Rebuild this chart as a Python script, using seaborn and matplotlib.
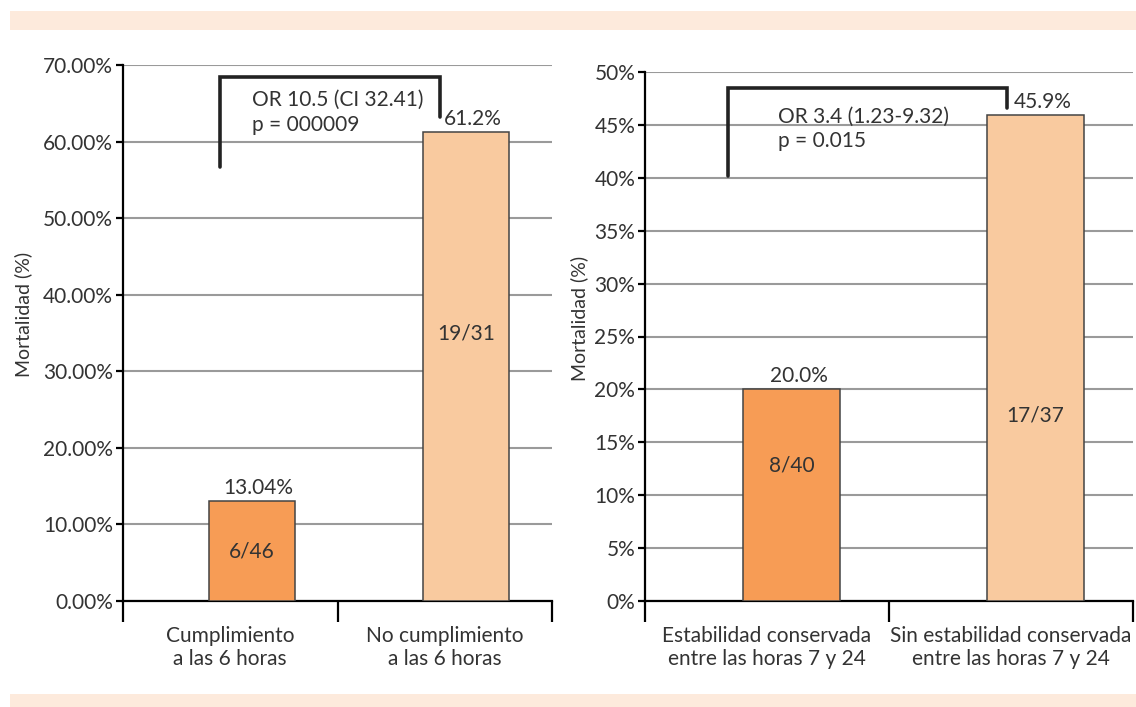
import numpy as np
import pandas as pd
import matplotlib
matplotlib.use("Agg")
import matplotlib.pyplot as plt
from matplotlib.patches import Rectangle
from matplotlib.ticker import FixedLocator
import seaborn as sb

# datos
cats_left = ["Cumplimiento\na las 6 horas", "No cumplimiento\na las 6 horas"]
vals_left = [13.04, 61.2]
top_labels_left = ["13.04%", "61.2%"]
inner_labels_left = ["6/46", "19/31"]

cats_right = ["Estabilidad conservada\nentre las horas 7 y 24", "Sin estabilidad conservada\nentre las horas 7 y 24"]
vals_right = [20.0, 45.9]
top_labels_right = ["20.0%", "45.9%"]
inner_labels_right = ["8/40", "17/37"]

stats_left = ["OR 10.5 (CI 32.41)", "p = 000009"]
stats_right = ["OR 3.4 (1.23-9.32)", "p = 0.015"]

colores = ["#F79C55", "#F9CA9F"]
banda = "#FDEADC"
texto = "#333333"

sb.set_style("white")
plt.rcParams['font.family'] = ['Lato', 'DejaVu Sans']
plt.rcParams['font.size'] = 15

fig = plt.figure(figsize=(11.36, 7.07), dpi=100)

# bandas de color arriba y abajo
fig.patches.append(Rectangle((10/1136, 677/707), 1 - 10/1136, 19/707, transform=fig.transFigure,
                             facecolor=banda, edgecolor='none', zorder=0))
fig.patches.append(Rectangle((10/1136, 0), 1 - 10/1136, 13/707, transform=fig.transFigure,
                             facecolor=banda, edgecolor='none', zorder=0))

ax1 = fig.add_axes([123/1136, 106/707, 429/1136, 536/707])
ax2 = fig.add_axes([645/1136, 106/707, 488/1136, 529/707])


def panel(ax, cats, vals, ymax, step, fmt, top_labels, inner_labels, inner_y, stats, bracket, stats_xy, label_x):
    df = pd.DataFrame({"cat": cats, "val": vals})
    sb.barplot(data=df, x="cat", y="val", hue="cat", palette=colores, width=0.4, saturation=1,
               edgecolor="#444444", linewidth=1.1, legend=False, ax=ax, zorder=3)
    ax.set_xlim(-0.6, 1.4)
    ax.set_ylim(0, ymax)
    yt = np.arange(0, ymax + step / 2, step)
    ax.set_yticks(yt)
    ax.set_yticklabels([fmt.format(v) for v in yt], color=texto)
    ax.yaxis.grid(True, color="#9a9a9a", linewidth=1.5, zorder=0)
    ax.set_axisbelow(True)
    for s in ["top", "right"]:
        ax.spines[s].set_visible(False)
    for s in ["left", "bottom"]:
        ax.spines[s].set_color("black")
        ax.spines[s].set_linewidth(1.6)
    ax.tick_params(axis='y', which='major', direction='out', length=5, width=1.6, color='black', pad=2, left=True)
    # separadores de categoria
    ax.set_xticks([-0.6, 0.4, 1.4])
    ax.set_xticklabels(["", "", ""])
    ax.tick_params(axis='x', which='major', direction='out', length=15, width=1.6, color='black', bottom=True)
    ax.xaxis.set_minor_locator(FixedLocator([-0.1, 0.9]))
    ax.set_xticklabels(cats, minor=True, color=texto)
    ax.tick_params(axis='x', which='minor', length=0, pad=18)
    ax.set_xlabel("")
    ax.set_ylabel("Mortalidad (%)", color=texto, fontsize=14)
    ax.yaxis.set_label_coords(label_x, 0.535)

    for i, v in enumerate(vals):
        ax.text(i + 0.03, v + ymax * 0.006, top_labels[i], ha='center', va='bottom', color=texto)
        ax.text(i, inner_y[i], inner_labels[i], ha='center', va='center', color=texto)

    bx0, bx1, btop, bl, br = bracket
    ax.plot([bx0, bx0, bx1, bx1], [bl, btop, btop, br], color="#222222", linewidth=2.6,
            solid_joinstyle='miter', zorder=4, clip_on=False)
    sx, sy1, sy2 = stats_xy
    ax.text(sx, sy1, stats[0], ha='left', va='center', color=texto)
    ax.text(sx, sy2, stats[1], ha='left', va='center', color=texto)


panel(ax1, cats_left, vals_left, 70, 10, "{:.2f}%", top_labels_left, inner_labels_left,
      [6.5, 35.0], stats_left, (-0.148, 0.878, 68.4, 56.7, 63.2), (0.0, 65.4, 62.1), -0.212)
panel(ax2, cats_right, vals_right, 50, 5, "{:.0f}%", top_labels_right, inner_labels_right,
      [12.8, 17.5], stats_right, (-0.26, 0.884, 48.5, 40.2, 46.6), (-0.055, 45.8, 43.5), -0.117)

fig.savefig("out.png", dpi=100)
